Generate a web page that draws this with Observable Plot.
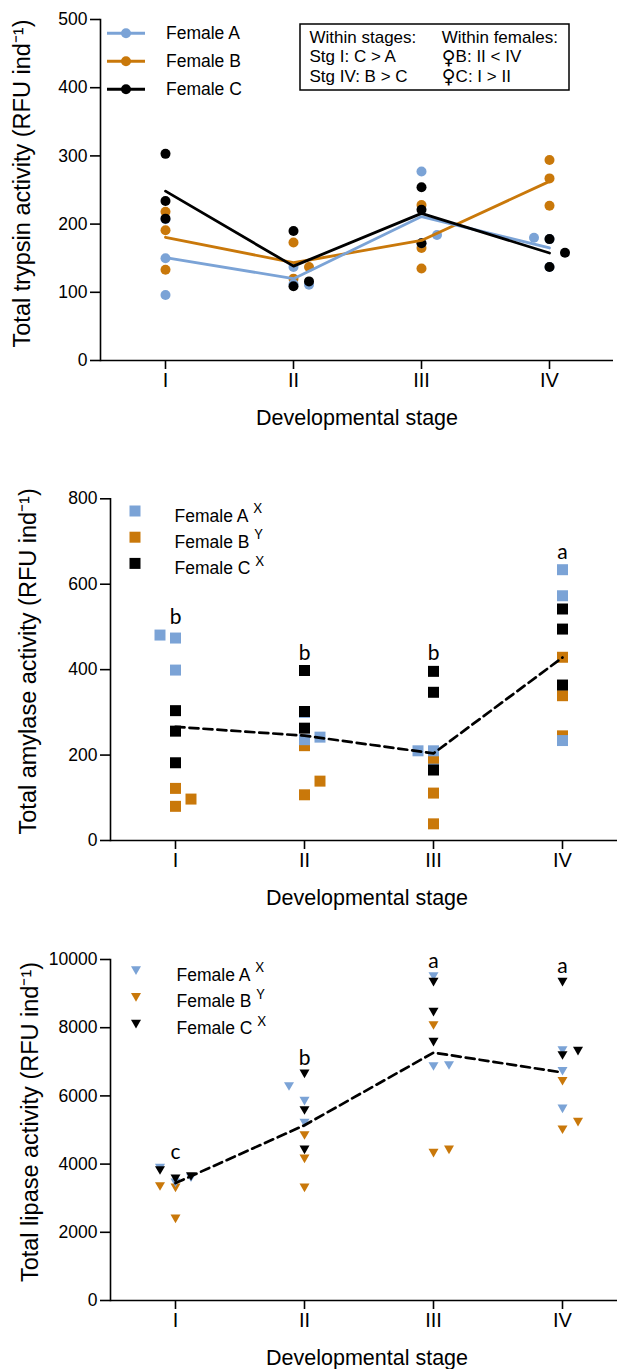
<!DOCTYPE html>
<html>
<head>
<meta charset="utf-8">
<script src="https://cdn.jsdelivr.net/npm/d3@7"></script>
<script src="https://cdn.jsdelivr.net/npm/@observablehq/plot@0.6"></script>
<style>
  body { margin: 0; background: #fff; }
  #chart { width: 617px; }
  #chart svg { display: block; }
</style>
</head>
<body>
<div id="chart"></div>
<script>
// ---------- data ----------
const stages = ["I", "II", "III", "IV"];
const females = ["Female A", "Female B", "Female C"];
const femaleColors = ["#7ba3d6", "#c9780a", "#000000"];
const drawOrder = ["Female B", "Female A", "Female C"];
const xLabel = "Developmental stage";

// Trypsin (3 replicates per stage I..IV)
const trypsinA = [[96, 150, 207], [137, 111, 112], [277, 184, 172], [180, 137, 178]];
const trypsinB = [[218, 191, 133], [173, 137, 120], [228, 165, 135], [294, 267, 227]];
const trypsinC = [[303, 234, 208], [190, 116, 109], [254, 221, 172], [178, 158, 137]];
// scatter column of each replicate: -1 left, 0 centre, 1 right
const trypsinColA = [[0, 0, 0], [0, 1, 0], [0, 1, 0], [-1, 0, 0]];
const trypsinColB = [[0, 0, 0], [0, 1, 0], [0, 0, 0], [0, 0, 0]];
const trypsinColC = [[0, 0, 0], [0, 1, 0], [0, 0, 0], [0, 1, 0]];
const trypsinTicks = [0, 100, 200, 300, 400, 500];
const trypsinLabel = "Total trypsin activity (RFU ind\u207B\u00B9)";
const statsLeft = ["Within stages:", "Stg I: C > A", "Stg IV: B > C"];
const statsRight = ["Within females:", "\u2640B: II < IV", "\u2640C: I > II"];

// Amylase
const amylaseA = [[481, 474, 399], [236, 242, 300], [210, 210, 167], [634, 573, 234]];
const amylaseB = [[122, 80, 97], [222, 107, 139], [191, 111, 39], [429, 339, 245]];
const amylaseC = [[304, 256, 182], [398, 302, 263], [396, 347, 165], [542, 495, 364]];
const amylaseColA = [[-1, 0, 0], [0, 1, 0], [-1, 0, 0], [0, 0, 0]];
const amylaseColB = [[0, 0, 1], [0, 0, 1], [0, 0, 0], [0, 0, 0]];
const amylaseColC = [[0, 0, 0], [0, 0, 0], [0, 0, 0], [0, 0, 0]];
const amylaseTicks = [0, 200, 400, 600, 800];
const amylaseLetters = ["b", "b", "b", "a"];
const amylaseLabel = "Total amylase activity (RFU ind\u207B\u00B9)";

// Lipase
const lipaseA = [[3880, 3450, 3600], [6276, 5845, 5200], [9501, 6862, 6891], [7331, 6724, 5621]];
const lipaseB = [[3343, 3304, 2395], [4839, 4155, 3304], [8065, 4320, 4419], [6431, 5006, 5230]];
const lipaseC = [[3812, 3568, 3636], [6647, 5572, 4419], [9335, 8455, 7575], [9335, 7185, 7312]];
const lipaseColA = [[-1, 0, 1], [-1, 0, 0], [0, 0, 1], [0, 0, 0]];
const lipaseColB = [[-1, 0, 0], [0, 0, 0], [0, 0, 1], [0, 0, 1]];
const lipaseColC = [[-1, 0, 1], [0, 0, 0], [0, 0, 0], [0, 0, 1]];
const lipaseTicks = [0, 2000, 4000, 6000, 8000, 10000];
const lipaseLetters = ["c", "b", "a", "a"];
const lipaseLabel = "Total lipase activity (RFU ind\u207B\u00B9)";

const groupSupers = ["X", "Y", "X"];

// ---------- helpers ----------
const FONT = "'Liberation Sans', Arial, Helvetica, sans-serif";
const COL_OFFSET = 15.5;

function makeTable(A, B, C, cA, cB, cC) {
  const sets = {"Female A": [A, cA], "Female B": [B, cB], "Female C": [C, cC]};
  const out = [];
  for (const f of drawOrder) {
    const [vals, cols] = sets[f];
    stages.forEach((s, i) => vals[i].forEach((v, j) => out.push({stage: s, female: f, value: v, col: cols[i][j]})));
  }
  return out;
}

const triangleDown = {
  draw(ctx, size) {
    const s = Math.sqrt(size * 4 / Math.sqrt(3));
    const h = s * Math.sqrt(3) / 2;
    ctx.moveTo(-s / 2, -h / 2);
    ctx.lineTo(s / 2, -h / 2);
    ctx.lineTo(0, h / 2);
    ctx.closePath();
  }
};

function panel(cfg) {
  const data = cfg.data;
  const marks = [];
  for (const c of [-1, 0, 1]) {
    marks.push(Plot.dot(data.filter(d => d.col === c), {
      x: "stage", y: "value", fill: "female", symbol: cfg.symbol, r: cfg.r, dx: c * COL_OFFSET
    }));
  }
  if (cfg.meanBy === "female") {
    marks.push(Plot.line(data, Plot.groupX({y: "mean"}, {x: "stage", y: "value", stroke: "female", strokeWidth: 2.8})));
  } else {
    marks.push(Plot.line(data, Plot.groupX({y: "mean"}, {x: "stage", y: "value", stroke: "#000", strokeWidth: 2.7, strokeDasharray: "9,5"})));
  }
  if (cfg.letters) {
    const letterData = stages.map((s, i) => ({
      stage: s, letter: cfg.letters[i], top: d3.max(data.filter(d => d.stage === s), d => d.value)
    }));
    marks.push(Plot.text(letterData, {x: "stage", y: "top", text: "letter", lineAnchor: "bottom", dy: -cfg.letterGap, fontSize: 21, fontFamily: "Lato, 'Open Sans', sans-serif"}));
  }
  marks.push(
    Plot.ruleY([0], {strokeWidth: 1.6}),
    Plot.frame({anchor: "left", strokeWidth: 1.6}),
    Plot.axisY({ticks: cfg.ticks, tickSize: 10, tickPadding: 3, tickFormat: d => String(d), fontSize: 17.5, strokeWidth: 1.6, label: null}),
    Plot.axisX({tickSize: 9, tickPadding: 3, fontSize: 20, strokeWidth: 1.6, label: null}),
    Plot.text([cfg.yLabel], {frameAnchor: "left", textAnchor: "middle", rotate: -90, dx: cfg.yLabelDx, dy: cfg.yLabelDy, fontSize: 23.5}),
    Plot.text([xLabel], {frameAnchor: "bottom", textAnchor: "middle", lineAnchor: "bottom", dy: 64, dx: cfg.xLabelDx, fontSize: 21.5})
  );
  const xScale = cfg.xRange
    ? {type: "point", domain: stages, range: cfg.xRange, padding: 0}
    : {type: "point", domain: stages, padding: 0.5};
  return Plot.plot({
    width: 617,
    height: cfg.height,
    marginTop: cfg.marginTop,
    marginBottom: cfg.marginBottom,
    marginLeft: cfg.marginLeft,
    marginRight: cfg.marginRight,
    x: xScale,
    y: {domain: cfg.yDomain},
    color: {domain: females, range: femaleColors},
    style: {fontFamily: FONT, fontSize: "16px", color: "#000", background: "#fff", overflow: "visible"},
    marks
  });
}

function addLegend(svg, cfg) {
  const g = d3.select(svg).append("g").attr("font-family", FONT).attr("font-size", cfg.fontSize)
    .attr("fill", "#000").attr("text-anchor", "start");
  females.forEach((f, i) => {
    const y = cfg.y0 + i * cfg.step;
    const color = femaleColors[i];
    if (cfg.kind === "line") {
      g.append("line").attr("x1", cfg.x1).attr("x2", cfg.x2).attr("y1", y).attr("y2", y)
        .attr("stroke", color).attr("stroke-width", 3);
      g.append("circle").attr("cx", cfg.mx).attr("cy", y).attr("r", 5).attr("fill", color);
    } else {
      g.append("path").attr("transform", `translate(${cfg.mx},${y})`)
        .attr("d", d3.symbol(cfg.symbol, cfg.size)()).attr("fill", color);
    }
    const t = g.append("text").attr("x", cfg.tx).attr("y", y + cfg.base).attr("text-anchor", "start").text(f);
    if (cfg.sup) {
      t.append("tspan").attr("dx", 5).attr("dy", -8.5).attr("font-size", 13)
        .attr("font-family", "Lato, 'Open Sans', sans-serif").text(cfg.sup[i]);
    }
  });
}

// ---------- panel 1: trypsin ----------
const trypsinData = makeTable(trypsinA, trypsinB, trypsinC, trypsinColA, trypsinColB, trypsinColC);
const p1 = panel({
  data: trypsinData, symbol: "circle", r: 5, meanBy: "female",
  height: 440, marginTop: 19, marginBottom: 80, marginLeft: 100, marginRight: 4,
  yDomain: [0, 500], ticks: trypsinTicks, yLabel: trypsinLabel, yLabelDx: -78.5, yLabelDy: -6.5, xLabelDx: 0
});
addLegend(p1, {kind: "line", x1: 107, x2: 145, mx: 126, tx: 166, y0: 33.3, step: 28, base: 6, fontSize: 17.5});
{
  const g = d3.select(p1).append("g").attr("font-family", FONT).attr("font-size", 17)
    .attr("fill", "#000").attr("text-anchor", "start");
  g.append("rect").attr("x", 300).attr("y", 24).attr("width", 269).attr("height", 66)
    .attr("fill", "none").attr("stroke", "#000").attr("stroke-width", 1.5);
  const baselines = [42.7, 62.2, 81.7];
  statsLeft.forEach((s, i) => g.append("text").attr("x", 309.5).attr("y", baselines[i]).text(s));
  statsRight.forEach((s, i) => {
    const t = g.append("text").attr("x", 441.7).attr("y", baselines[i]);
    if (s.startsWith("\u2640")) {
      t.append("tspan").attr("font-family", "'DejaVu Sans', sans-serif").attr("font-size", 19).attr("dy", 1.5).text("\u2640");
      t.append("tspan").attr("dy", -1.5).text(s.slice(1));
    } else {
      t.text(s);
    }
  });
}

// ---------- panel 2: amylase ----------
const amylaseData = makeTable(amylaseA, amylaseB, amylaseC, amylaseColA, amylaseColB, amylaseColC);
const p2 = panel({
  data: amylaseData, symbol: "square", r: 6.2, meanBy: "all", letters: amylaseLetters, letterGap: 11,
  height: 480, marginTop: 58.3, marginBottom: 80, marginLeft: 110, marginRight: 0, xRange: [174.6, 562.7],
  yDomain: [0, 800], ticks: amylaseTicks, yLabel: amylaseLabel, yLabelDx: -82, yLabelDy: -8.3, xLabelDx: 3
});
addLegend(p2, {kind: "symbol", symbol: d3.symbolSquare, size: 121, mx: 135, tx: 174.6, y0: 71, step: 26.2, base: 10.7, fontSize: 17.5, sup: groupSupers});

// ---------- panel 3: lipase ----------
const lipaseData = makeTable(lipaseA, lipaseB, lipaseC, lipaseColA, lipaseColB, lipaseColC);
const p3 = panel({
  data: lipaseData, symbol: triangleDown, r: 3.71, meanBy: "all", letters: lipaseLetters, letterGap: 9,
  height: 449, marginTop: 39, marginBottom: 69, marginLeft: 110, marginRight: 0, xRange: [174.6, 562.7],
  yDomain: [0, 10000], ticks: lipaseTicks, yLabel: lipaseLabel, yLabelDx: -80, yLabelDy: -8, xLabelDx: 3
});
addLegend(p3, {kind: "symbol", symbol: triangleDown, size: 43.3, mx: 136, tx: 176.6, y0: 50.7, step: 26.7, base: 10, fontSize: 17.5, sup: groupSupers});

const root = document.getElementById("chart");
root.append(p1, p2, p3);
</script>
</body>
</html>
